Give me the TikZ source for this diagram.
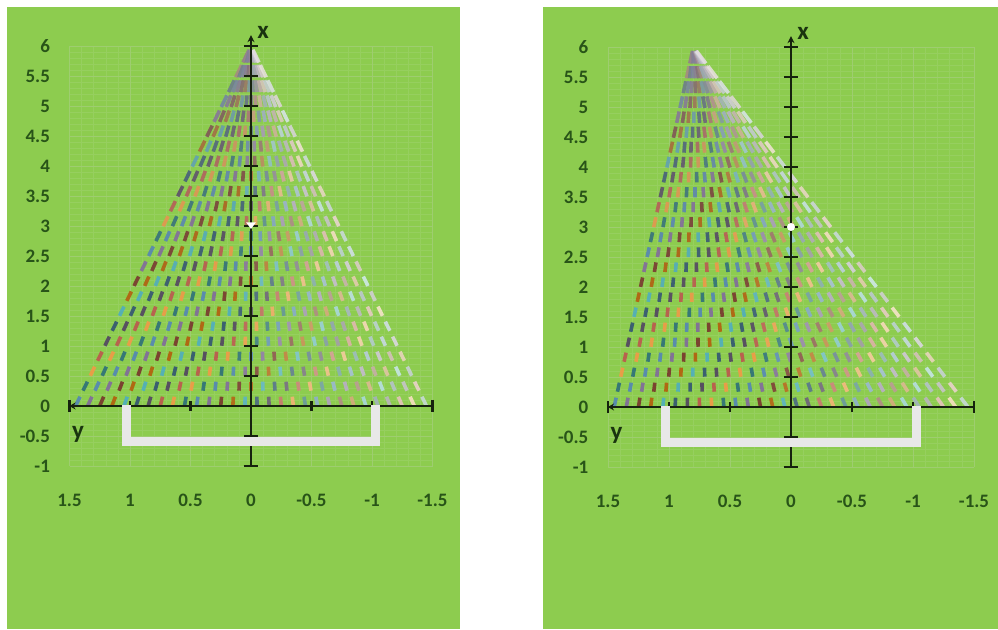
\documentclass[tikz,border=0pt]{standalone}
\usepackage{fontspec}
\setmainfont{Carlito}
\usetikzlibrary{arrows.meta}
\definecolor{bg}{RGB}{141,204,79}
\definecolor{gmaj}{RGB}{158,205,112}
\definecolor{gmin}{RGB}{150,207,95}
\definecolor{numcol}{RGB}{40,84,24}
\definecolor{lblcol}{RGB}{26,52,15}
\definecolor{axcol}{RGB}{22,34,14}
\definecolor{brk}{RGB}{232,232,232}
\definecolor{pal0}{HTML}{4F81BD}
\definecolor{pal1}{HTML}{C0504D}
\definecolor{pal2}{HTML}{4BACC6}
\definecolor{pal3}{HTML}{8064A2}
\definecolor{pal4}{HTML}{F79646}
\definecolor{pal5}{HTML}{2C4D75}
\definecolor{pal6}{HTML}{772C2A}
\definecolor{pal7}{HTML}{276A7C}
\definecolor{pal8}{HTML}{4D3B62}
\definecolor{pal9}{HTML}{B65708}
\definecolor{conegray}{RGB}{140,130,150}
\tikzset{
  panelbg/.style={fill=bg, draw=none},
  gridminor/.style={draw=gmin, line width=0.5pt},
  gridmajor/.style={draw=gmaj, line width=0.8pt},
  dashln/.style={line width=3.6pt, opacity=0.85},
  axisln/.style={draw=axcol, line width=2.4pt},
  bracketln/.style={draw=brk, line width=9pt, line join=miter},
  numlbl/.style={text=numcol, font=\fontsize{19}{19}\selectfont\bfseries, inner sep=0pt},
  axlbl/.style={text=lblcol, font=\fontsize{25}{25}\selectfont\bfseries, inner sep=0pt}
}
\newcommand{\conepanel}[2]{% #1 = apex x value, #2 = name prefix
  % grid
  \foreach \u in {-15,...,15} \draw[gridminor] (\u/10,-1) -- (\u/10,6);
  \foreach \u in {-10,...,60} \draw[gridminor] (-1.5,\u/10) -- (1.5,\u/10);
  \foreach \u in {-3,...,3} \draw[gridmajor] (\u/2,-1) -- (\u/2,6);
  \foreach \u in {-2,...,12} \draw[gridmajor] (-1.5,\u/2) -- (1.5,\u/2);
  % cone of dashes
  \foreach \k in {0,...,23}{
    \pgfmathsetmacro{\h}{0.08+0.25*\k}
    \pgfmathsetmacro{\s}{\h/6}
    \pgfmathtruncatemacro{\N}{round(10+20*(1-\s))}
    \pgfmathtruncatemacro{\Nm}{\N-1}
    \pgfmathtruncatemacro{\g}{round(95*\s*\s*\s)}
    \pgfmathtruncatemacro{\pc}{100-\g}
    \pgfmathsetmacro{\dh}{0.075+0.03*\s*\s}
    \pgfmathsetmacro{\ha}{\h-\dh}
    \pgfmathsetmacro{\hb}{\h+\dh}
    \foreach \i in {0,...,\Nm}{
      \pgfmathsetmacro{\t}{\i/\Nm}
      \pgfmathsetmacro{\b}{1.45-2.9*\t}
      \pgfmathsetmacro{\px}{(1-\s)*\b+\s*#1}
      \pgfmathsetmacro{\dx}{(#1-\b)/6*\dh}
      \pgfmathsetmacro{\xa}{\px-\dx}
      \pgfmathsetmacro{\xb}{\px+\dx}
      \pgfmathtruncatemacro{\c}{mod(\i*3+\k*7,10)}
      \pgfmathtruncatemacro{\w}{(\t<0.42) ? 0 : round(75*(\t-0.42)/0.58)}
      \pgfmathtruncatemacro{\pw}{100-\w}
      \draw[dashln, color=pal\c!\pc!conegray!\pw!white] (\xa,\ha) -- (\xb,\hb);
    }
  }
  % axes
  \coordinate (#2hl) at (1.5,0);
  \coordinate (#2hr) at (-1.5,0);
  \coordinate (#2vb) at (0,-1);
  \coordinate (#2vt) at (0,6.18);
  \draw[axisln] (#2hl) -- (#2hr);
  \draw[axisln] (1.5,0.1) -- (1.5,-0.1);
  \draw[axisln] (-1.5,0.1) -- (-1.5,-0.1);
  \draw[axisln, -{Stealth[length=6pt,width=7pt]}] (1.38,0) -- (#2hl);
  \foreach \xv in {1,0.5,-0.5,-1} \draw[axisln] (\xv,0.08) -- (\xv,-0.08);
  \draw[axisln, -{Stealth[length=7pt,width=7pt]}] (#2vb) -- (#2vt);
  \draw[axisln] (0.06,-1) -- (-0.06,-1);
  \foreach \v in {-0.5,0.5,1,1.5,2,2.5,3,3.5,4,4.5,5,5.5,6} \draw[axisln] (0.055,\v) -- (-0.055,\v);
  % bracket
  \coordinate (#2b1) at (1.03,0.02);
  \coordinate (#2b2) at (1.03,-0.59);
  \coordinate (#2b3) at (-1.03,-0.59);
  \coordinate (#2b4) at (-1.03,0.02);
  \draw[bracketln] (#2b1) -- (#2b2) -- (#2b3) -- (#2b4);
  % labels
  \foreach \v [count=\n] in {6,5.5,5,4.5,4,3.5,3,2.5,2,1.5,1,0.5,0,-0.5,-1}
    \node[numlbl, anchor=east] (#2ny\n) at (1.66,\v) {\v};
  \foreach \v [count=\n] in {1.5,1,0.5,0,-0.5,-1,-1.5}
    \node[numlbl] (#2nx\n) at (\v,-1.57) {\v};
  \node[axlbl] (#2xl) at (-0.1,6.22) {x};
  \node[axlbl] (#2yl) at (1.43,-0.47) {y};
}
\begin{document}
\begin{tikzpicture}[x=1pt,y=1pt]
\useasboundingbox (0,0) rectangle (998,629);
\fill[white] (0,0) rectangle (998,629);
\fill[panelbg] (7,0) rectangle (460,622);
\fill[panelbg] (543,0) rectangle (998,622);
\begin{scope}[shift={(251,223)}, x={(-121pt,0pt)}, y={(0pt,60pt)}]
  \conepanel{0}{L}
  \fill[white] (0.04,3.06) -- (-0.04,3.06) -- (0,2.95) -- cycle;
\end{scope}
\begin{scope}[shift={(791,222)}, x={(-122pt,0pt)}, y={(0pt,60pt)}]
  \conepanel{0.8}{R}
  \fill[white] (0,3) circle[radius=4pt];
\end{scope}
\end{tikzpicture}
\end{document}
